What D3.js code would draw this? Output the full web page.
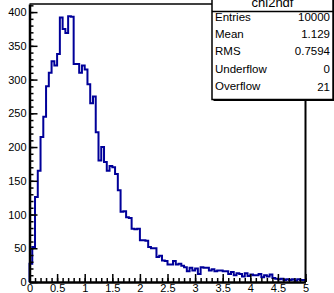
<!DOCTYPE html>
<html>
<head>
<meta charset="utf-8">
<script src="https://cdn.jsdelivr.net/npm/d3@7"></script>
<style>
  body { margin: 0; background: #fff; }
  svg { display: block; }
  text { font-family: "Liberation Sans", Arial, sans-serif; }
</style>
</head>
<body>
<div id="chart"></div>
<script>
// histogram chi2ndf, 100 bins from 0 to 5
var xMin = 0, xMax = 5;
var counts = [
  27, 52, 126, 165, 215, 245, 290, 310, 327, 321,
  338, 392, 375, 369, 394, 393, 323, 323, 310, 321,
  315, 293, 265, 275, 222, 180, 200, 178, 165, 172,
  170, 160, 136, 104, 105, 96, 95, 79, 78, 79,
  62, 62, 61, 52, 50, 50, 37, 39, 32, 31,
  26, 26, 31, 26, 27, 24, 22, 16, 21, 17,
  20, 12, 22, 21, 21, 17, 19, 16, 17, 17,
  16, 16, 12, 15, 10, 13, 12, 8, 13, 9,
  11, 10, 10, 12, 7, 10, 8, 11, 6, 5,
  4, 5, 3, 4, 3, 4, 2, 4, 3, 3
];
var xTicks = [0, 0.5, 1, 1.5, 2, 2.5, 3, 3.5, 4, 4.5, 5];
var yTicks = [0, 50, 100, 150, 200, 250, 300, 350, 400];
var histName = "chi2ndf";
var statLabels = ["Entries", "Mean", "RMS", "Underflow", "Overflow"];
var statValues = ["10000", "1.129", "0.7594", "0", "21"];

var W = 334, H = 293;
var frame = {left: 29.5, right: 305.5, top: 4, bottom: 282};

var svg = d3.select("#chart").append("svg")
  .attr("width", W)
  .attr("height", H);

var x = d3.scaleLinear().domain([xMin, xMax]).range([frame.left, frame.right]);
var y = d3.scaleLinear().domain([0, 412]).range([frame.bottom, frame.top]);

var binW = (xMax - xMin) / counts.length;

// step outline of the histogram
var pts = [[xMin, 0]];
counts.forEach(function(c, i) {
  pts.push([xMin + i * binW, c]);
  pts.push([xMin + (i + 1) * binW, c]);
});
pts.push([xMax, 0]);

var line = d3.line()
  .x(function(d) { return x(d[0]); })
  .y(function(d) { return y(d[1]); });

svg.append("path")
  .datum(pts)
  .attr("d", line)
  .attr("fill", "none")
  .attr("stroke", "#000099")
  .attr("stroke-width", 2)
  .attr("stroke-linejoin", "miter");

// frame top / right
svg.append("line")
  .attr("x1", frame.left).attr("x2", frame.right)
  .attr("y1", frame.top).attr("y2", frame.top)
  .attr("stroke", "#000").attr("stroke-width", 1.5);
svg.append("line")
  .attr("x1", frame.right).attr("x2", frame.right)
  .attr("y1", frame.top).attr("y2", frame.bottom)
  .attr("stroke", "#000").attr("stroke-width", 2);

// minor ticks
var yMinor = d3.range(0, 411, 10);
var xMinor = d3.range(0, 50.5, 1).map(function(d) { return d / 10; });

svg.append("g")
  .attr("transform", "translate(" + frame.left + ",0)")
  .call(d3.axisLeft(y).tickValues(yMinor).tickSize(-4).tickFormat(""))
  .call(function(g) { g.select(".domain").remove(); })
  .selectAll("line").attr("stroke-width", 1.5);

svg.append("g")
  .attr("transform", "translate(0," + frame.bottom + ")")
  .call(d3.axisBottom(x).tickValues(xMinor).tickSize(-4).tickFormat(""))
  .call(function(g) { g.select(".domain").remove(); })
  .selectAll("line").attr("stroke-width", 1.5);

// major ticks + labels
var yAxis = svg.append("g")
  .attr("transform", "translate(" + frame.left + ",0)")
  .call(d3.axisLeft(y).tickValues(yTicks).tickSize(-8).tickSizeOuter(0).tickPadding(3));
yAxis.select(".domain").attr("stroke-width", 2.5);
yAxis.selectAll("line").attr("stroke-width", 1.5);
yAxis.selectAll("text").attr("font-size", 11).attr("fill", "#000")
  .attr("font-family", "Liberation Sans, Arial, sans-serif");

var xAxis = svg.append("g")
  .attr("transform", "translate(0," + frame.bottom + ")")
  .call(d3.axisBottom(x).tickValues(xTicks).tickSize(-8).tickSizeOuter(0).tickPadding(2)
    .tickFormat(function(d) { return d3.format("")(d); }));
xAxis.select(".domain").attr("stroke-width", 2.5);
xAxis.selectAll("line").attr("stroke-width", 1.5);
xAxis.selectAll("text").attr("font-size", 11).attr("fill", "#000")
  .attr("font-family", "Liberation Sans, Arial, sans-serif");

// stats box
var box = {x: 212, y: -8, w: 121, h: 107.5, titleBottom: 11.5};
svg.append("rect")
  .attr("x", box.x + 1.5).attr("y", box.y + 1.5)
  .attr("width", box.w).attr("height", box.h)
  .attr("fill", "#000");
svg.append("rect")
  .attr("x", box.x).attr("y", box.y)
  .attr("width", box.w).attr("height", box.h)
  .attr("fill", "#fff").attr("stroke", "#000").attr("stroke-width", 1.5);
svg.append("line")
  .attr("x1", box.x).attr("x2", box.x + box.w)
  .attr("y1", box.titleBottom).attr("y2", box.titleBottom)
  .attr("stroke", "#000").attr("stroke-width", 1.5);
svg.append("text")
  .attr("x", box.x + box.w / 2).attr("y", 7)
  .attr("text-anchor", "middle")
  .attr("font-size", 13)
  .text(histName);

var rowH = 17.2;
statLabels.forEach(function(lab, i) {
  var yy = 21 + i * rowH;
  svg.append("text")
    .attr("x", box.x + 3).attr("y", yy)
    .attr("font-size", 11.5)
    .text(lab);
  svg.append("text")
    .attr("x", box.x + box.w - 3).attr("y", yy + (i === 4 ? 1.5 : 0))
    .attr("text-anchor", "end")
    .attr("font-size", 11.5)
    .text(statValues[i]);
});
</script>
</body>
</html>
